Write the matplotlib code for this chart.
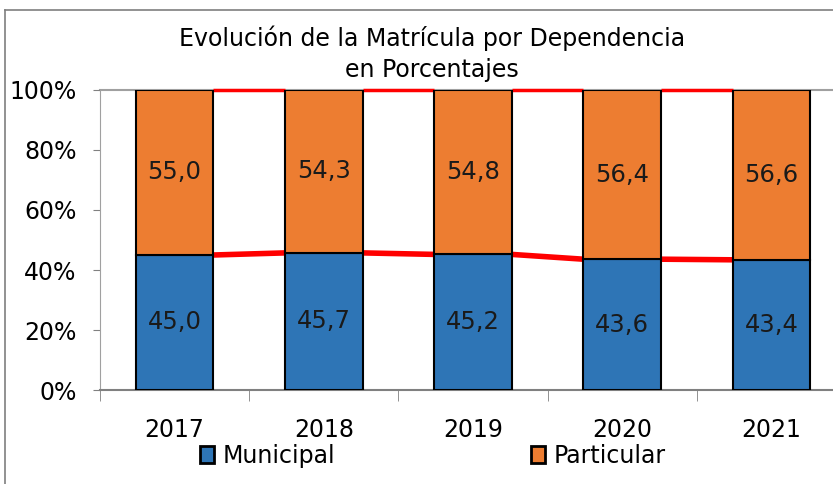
import matplotlib
matplotlib.use("Agg")
import matplotlib.pyplot as plt
from matplotlib.lines import Line2D
from matplotlib.patches import Patch

years = ["2017", "2018", "2019", "2020", "2021"]
municipal = [45.0, 45.7, 45.2, 43.6, 43.4]
particular = [55.0, 54.3, 54.8, 56.4, 56.6]

BLUE = "#2E75B6"
ORANGE = "#ED7D31"
RED = "#FF0000"

fig = plt.figure(figsize=(8.33, 4.84), dpi=100)
ax = fig.add_axes([100 / 833, 1 - 390 / 484, 746 / 833, 300 / 484])

x = list(range(len(years)))
w = 0.52
ax.bar(x, municipal, w, color=BLUE, edgecolor="black", linewidth=1.5, zorder=3)
ax.bar(x, particular, w, bottom=municipal, color=ORANGE, edgecolor="black", linewidth=1.5, zorder=3)

# series lines between bars
for i in range(len(years) - 1):
    ax.plot([i + w / 2, i + 1 - w / 2], [municipal[i], municipal[i + 1]], color=RED, lw=4, zorder=2,
            solid_capstyle="butt")
    ax.plot([i + w / 2, i + 1 - w / 2], [municipal[i] + particular[i], municipal[i + 1] + particular[i + 1]],
            color=RED, lw=2.5, zorder=2, solid_capstyle="butt", clip_on=False)

for i in x:
    ax.text(i, municipal[i] / 2, f"{municipal[i]:.1f}".replace(".", ","), ha="center", va="center",
            fontsize=17.5, color="#1a1a1a", zorder=4)
    ax.text(i, municipal[i] + particular[i] / 2, f"{particular[i]:.1f}".replace(".", ","), ha="center",
            va="center", fontsize=17.5, color="#1a1a1a", zorder=4)

ax.set_xlim(-0.5, 4.5)
ax.set_ylim(0, 100)
ax.set_yticks([0, 20, 40, 60, 80, 100])
ax.set_yticklabels(["0%", "20%", "40%", "60%", "80%", "100%"], fontsize=17)
ax.set_xticks(x)
ax.set_xticklabels(years, fontsize=17)
ax.set_xticks([-0.5, 0.5, 1.5, 2.5, 3.5], minor=True)
ax.tick_params(axis="x", which="major", length=0, pad=20)
ax.tick_params(axis="x", which="minor", length=8, color="#808080", direction="out")
ax.tick_params(axis="y", length=5, color="#808080", pad=12)
ax.axhline(100, color="#a0a0a0", lw=1.5, zorder=1, clip_on=False)
for s in ["top", "right"]:
    ax.spines[s].set_visible(False)
ax.spines["left"].set_color("#a0a0a0")
ax.spines["bottom"].set_color("#808080")
ax.spines["bottom"].set_linewidth(1.5)

fig.text(432 / 833, 1 - 38 / 484, "Evolución de la Matrícula por Dependencia", ha="center", va="center",
         fontsize=17)
fig.text(432 / 833, 1 - 70 / 484, "en Porcentajes", ha="center", va="center", fontsize=17)

handles = [Patch(facecolor=BLUE, edgecolor="black", linewidth=2),
           Patch(facecolor=ORANGE, edgecolor="black", linewidth=2)]
fig.legend(handles, ["Municipal", "Particular"], loc="center", bbox_to_anchor=(433 / 833, 1 - 456 / 484),
           ncol=2, frameon=False, prop={"size": 17},
           columnspacing=8.3, handlelength=0.6, handleheight=0.7, handletextpad=0.35)

# outer chart border (left and top)
fig.add_artist(Line2D([5 / 833, 5 / 833], [0, 1 - 10 / 484], color="#7f7f7f", lw=1.2))
fig.add_artist(Line2D([5 / 833, 1], [1 - 10 / 484, 1 - 10 / 484], color="#7f7f7f", lw=1.2))

fig.savefig("out.png", dpi=100)
